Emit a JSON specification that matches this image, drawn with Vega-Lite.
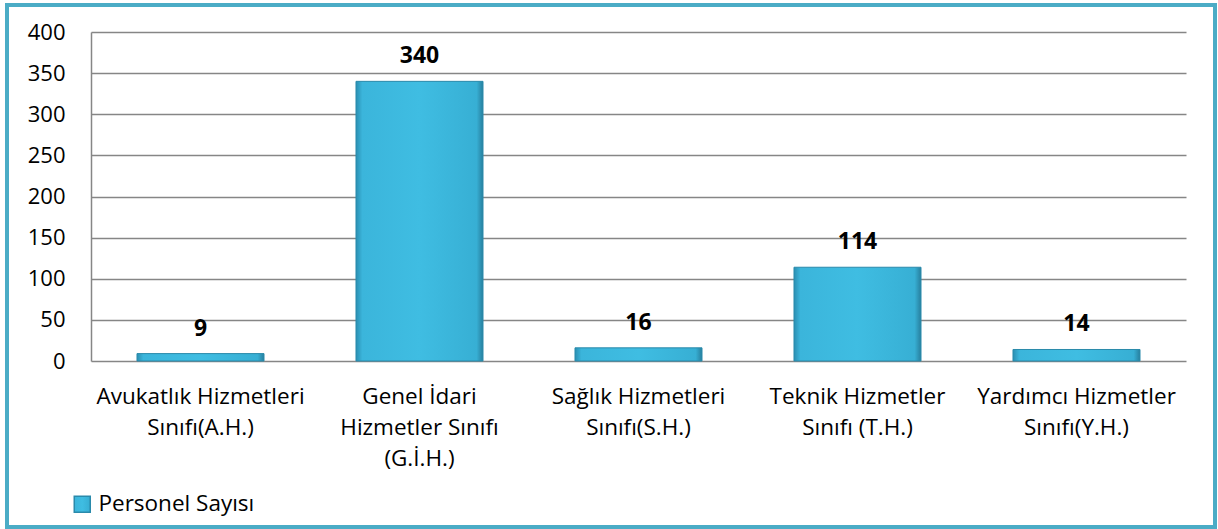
{
  "$schema": "https://vega.github.io/schema/vega-lite/v6.json",
  "width": 1208,
  "height": 522,
  "autosize": "none",
  "padding": {"left": 7, "top": 5, "right": 3, "bottom": 2},
  "background": "#ffffff",
  "config": {
    "view": {"stroke": "#4BACC6", "strokeWidth": 4},
    "font": "Open Sans",
    "axis": {"labelFont": "Open Sans", "labelFontSize": 22.5, "labelColor": "#000000"}
  },
  "data": {
    "values": [
      {"sinif": "Avukatlık Hizmetleri\nSınıfı(A.H.)", "seri": "Personel Sayısı", "sayi": 9},
      {"sinif": "Genel İdari\nHizmetler Sınıfı\n(G.İ.H.)", "seri": "Personel Sayısı", "sayi": 340},
      {"sinif": "Sağlık Hizmetleri\nSınıfı(S.H.)", "seri": "Personel Sayısı", "sayi": 16},
      {"sinif": "Teknik Hizmetler\nSınıfı (T.H.)", "seri": "Personel Sayısı", "sayi": 114},
      {"sinif": "Yardımcı Hizmetler\nSınıfı(Y.H.)", "seri": "Personel Sayısı", "sayi": 14}
    ]
  },
  "encoding": {
    "x": {
      "field": "sinif", "type": "nominal", "sort": null,
      "scale": {"range": [84, 1179], "paddingInner": 0.42, "paddingOuter": 0.21},
      "axis": {
        "title": null, "labelAngle": 0, "offset": -166, "domain": false, "ticks": false,
        "labelExpr": "split(datum.label, '\\n')", "labelLineHeight": 31,
        "labelPadding": 24, "labelBaseline": "top", "labelLimit": 400, "grid": false
      }
    },
    "y": {
      "field": "sayi", "type": "quantitative",
      "scale": {"domain": [0, 400], "range": [356, 27], "nice": false},
      "axis": {
        "title": null, "offset": -84, "values": [0, 50, 100, 150, 200, 250, 300, 350, 400],
        "ticks": false, "labelPadding": 26, "labelFontSize": 22, "domainColor": "#868686", "domainWidth": 1.5,
        "grid": true, "gridColor": "#868686", "gridWidth": 1.5
      }
    }
  },
  "layer": [
    {
      "mark": {"type": "bar", "strokeWidth": 1,
        "fill": {"gradient": "linear", "x1": 0, "x2": 1, "y1": 0, "y2": 0, "stops": [
            {"offset": 0, "color": "#2a8fb2"},
            {"offset": 0.05, "color": "#3bb5db"},
            {"offset": 0.5, "color": "#3fbde2"},
            {"offset": 0.95, "color": "#37afd4"},
            {"offset": 1, "color": "#277f9e"}
          ]}},
      "encoding": {
        "stroke": {
          "field": "seri", "type": "nominal",
          "scale": {"range": ["#2a8aab"]},
          "legend": {
            "title": null, "orient": "none", "legendX": 64, "legendY": 488,
            "symbolType": "square", "symbolSize": 256, "labelFontSize": 22.5,
            "labelFont": "Open Sans", "labelColor": "#000000", "symbolFillColor": "#3cb8dc",
            "symbolStrokeColor": "#2a8aab", "labelOffset": 5
          }
        }
      }
    },
    {
      "mark": {"type": "text", "fontWeight": "bold", "fontSize": 23, "baseline": "alphabetic", "dy": -18, "color": "#000000", "font": "Open Sans"},
      "encoding": {"text": {"field": "sayi", "type": "quantitative"}}
    }
  ]
}
